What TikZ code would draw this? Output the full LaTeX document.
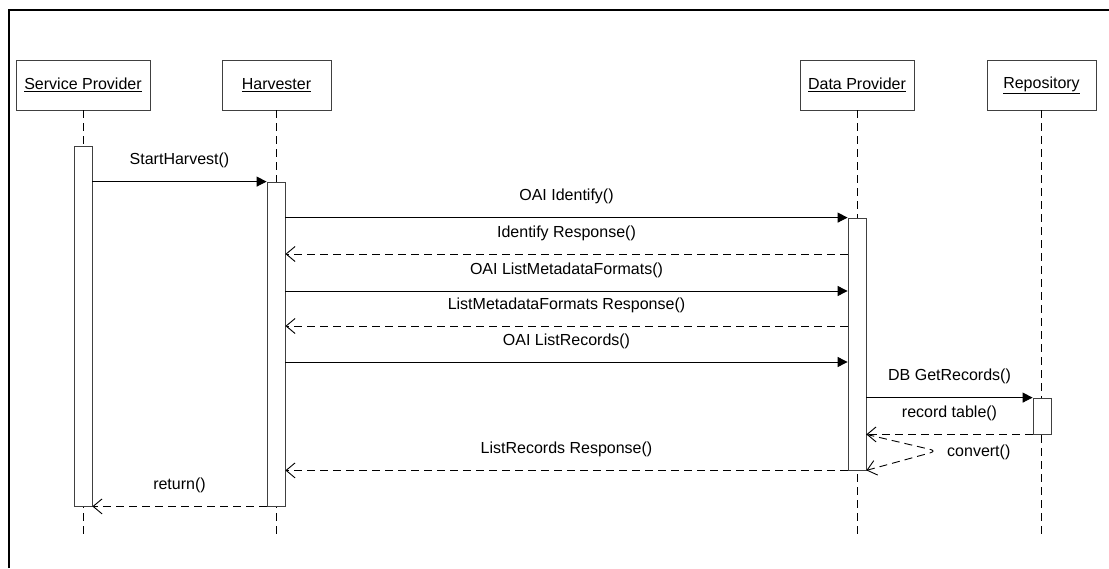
\documentclass[tikz,border=0pt]{standalone}
\usepackage{fontspec}
\setmainfont{Liberation Sans}
\usetikzlibrary{arrows.meta}

\begin{document}
\begin{tikzpicture}[
            x = 1pt, y = -1pt, % one unit per pixel, y down
            > = {Triangle[length=10pt, width=10pt]}, % call arrow head
            font = \fontsize{16}{19}\selectfont,
            call/.style = {->, line width=0.9pt},
            ret/.style = {-{Straight Barb[length=9pt, width=15pt]}, line width=0.9pt, dash pattern=on 8pt off 5pt},
            head/.style = {draw = black!75, line width=0.8pt, minimum height=50pt, inner sep=0pt},
            bar/.style = {draw = black!75, line width=0.8pt, fill = white, minimum width=18pt, inner sep=0pt},
            life/.style = {line width=0.8pt, dash pattern=on 8pt off 5pt},
            lbl/.style = {midway, yshift=21pt, inner sep=1pt}
        ]

        \useasboundingbox (0,0) rectangle (1109,568);

        % frame
        \draw[line width=2pt] (9,568) -- (9,10) -- (1109,10);

        % lifeline heads
        \foreach \n/\x/\w/\t in {sp/83/134/Service Provider, hv/276.5/109/Harvester,
                                 dp/857/114/Data Provider, rp/1041.5/109/Repository}
            \node[head, minimum width=\w] (\n) at (\x,85) {\underline{\t}};

        \coordinate (bot) at (0,535);
        \foreach \n in {sp,hv,dp,rp}
            \draw[life] (\n.south) -- (\n |- bot);

        % activation bars
        \node[bar, minimum height=360] (bsp) at (83,326) {};
        \node[bar, minimum height=324] (bhv) at (276,344) {};
        \node[bar, minimum height=252] (bdp) at (857,344) {};
        \node[bar, minimum height=36] (brp) at (1042,416) {};

        \coordinate (y3) at (0,254);
        \coordinate (y4) at (0,291);
        \coordinate (y5) at (0,326);
        \coordinate (y6) at (0,362);
        \coordinate (tip) at (937,451);

        % messages
        \draw[call] (bsp.east |- bhv.north) -- node[lbl] (t1) {StartHarvest()} (bhv.north west);
        \draw[call] (bhv.east |- bdp.north) -- node[lbl] (t2) {OAI Identify()} (bdp.north west);
        \draw[ret] (bdp.west |- y3) -- node[lbl] (t3) {Identify Response()} (bhv.east |- y3);
        \draw[call] (bhv.east |- y4) -- node[lbl] (t4) {OAI ListMetadataFormats()} (bdp.west |- y4);
        \draw[ret] (bdp.west |- y5) -- node[lbl] (t5) {ListMetadataFormats Response()} (bhv.east |- y5);
        \draw[call] (bhv.east |- y6) -- node[lbl] (t6) {OAI ListRecords()} (bdp.west |- y6);
        \draw[call] (bdp.east |- brp.north) -- node[lbl] (t7) {DB GetRecords()} (brp.north west);
        \draw[ret] (brp.south west) -- node[lbl] (t8) {record table()} (bdp.east |- brp.south);
        \draw[ret, rounded corners=7pt] (bdp.east |- brp.south) -- (tip) -- (bdp.south east);
        \node[anchor=west, inner sep=1pt] (t9) at (946,452) {convert()};
        \draw[ret] (bdp.south west) -- node[lbl] (t10) {ListRecords Response()} (bhv.east |- bdp.south);
        \draw[ret] (bhv.south west) -- node[lbl] (t11) {return()} (bsp.south east);

    \end{tikzpicture}
\end{document}
